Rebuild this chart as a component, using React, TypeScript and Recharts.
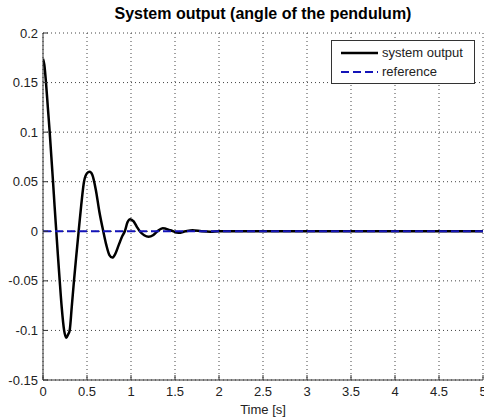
import { CartesianGrid, Legend, Line, LineChart, XAxis, YAxis } from 'recharts';

// system response (time in s, angle in rad)
const time = [
  0, 0.015, 0.034, 0.055, 0.076, 0.095, 0.114, 0.132, 0.151, 0.17, 0.19, 0.213, 0.24, 0.265,
  0.285, 0.303, 0.327, 0.352, 0.378, 0.405, 0.435, 0.466, 0.5, 0.53,
  0.56, 0.6, 0.64, 0.685, 0.72, 0.755, 0.788,
  0.82, 0.86, 0.9, 0.93, 0.96, 0.99,
  1.03, 1.07, 1.1, 1.15, 1.2,
  1.25, 1.3, 1.36, 1.45, 1.54, 1.62, 1.7, 1.8, 1.9, 2, 5,
];
const output = [
  0.174, 0.168, 0.15, 0.125, 0.1, 0.075, 0.05, 0.025, 0, -0.025, -0.05, -0.077, -0.1, -0.1075,
  -0.104, -0.1, -0.076, -0.05, -0.025, 0, 0.027, 0.05, 0.0585, 0.06,
  0.057, 0.042, 0.02, 0, -0.014, -0.024, -0.0265,
  -0.023, -0.014, -0.005, 0, 0.009, 0.0122,
  0.01, 0.004, 0, -0.004, -0.0055,
  -0.004, 0, 0.003, 0.001, -0.0015, 0, 0.001, 0, -0.0005, 0, 0,
];
const refTime = [0, 5];
const refValue = [0, 0];

const xTicks = [0, 0.5, 1, 1.5, 2, 2.5, 3, 3.5, 4, 4.5, 5];
const yTicks = [-0.15, -0.1, -0.05, 0, 0.05, 0.1, 0.15, 0.2];

const outputData = time.map((t, i) => ({ t, v: output[i] }));
const refData = refTime.map((t, i) => ({ t, v: refValue[i] }));

const FONT = 'Arial, "Liberation Sans", sans-serif';
const AXIS = '#333';
const TXT = '#222';
const TICK = 5;
const MARGIN = 6;

function BottomTick({ x, y, payload }: any) {
  const axisY = y - MARGIN;
  return (
    <g>
      <line x1={x} x2={x} y1={axisY} y2={axisY - TICK} stroke={AXIS} />
      <text x={x} y={axisY + 16} textAnchor="middle" fill={TXT} fontSize={13} fontFamily={FONT}>
        {payload.value}
      </text>
    </g>
  );
}

function LeftTick({ x, y, payload }: any) {
  const axisX = x + MARGIN;
  return (
    <g>
      <line x1={axisX} x2={axisX + TICK} y1={y} y2={y} stroke={AXIS} />
      <text x={x + 1} y={y + 4.5} textAnchor="end" fill={TXT} fontSize={13} fontFamily={FONT}>
        {payload.value}
      </text>
    </g>
  );
}

function TopTick({ x, y }: any) {
  return <line x1={x} x2={x} y1={y} y2={y + TICK} stroke={AXIS} />;
}

function RightTick({ x, y }: any) {
  return <line x1={x} x2={x - TICK} y1={y} y2={y} stroke={AXIS} />;
}

function LegendBox() {
  const rows = [
    { name: 'system output', color: '#000', dash: undefined, width: 2.5 },
    { name: 'reference', color: '#1414b8', dash: '8 4', width: 2 },
  ];
  return (
    <div
      style={{
        border: `1px solid ${AXIS}`,
        background: '#fff',
        padding: '2px 0 2px 9px',
        width: 133,
        fontFamily: FONT,
        fontSize: 13,
        color: TXT,
      }}
    >
      {rows.map((r) => (
        <div key={r.name} style={{ display: 'flex', alignItems: 'center', height: 19 }}>
          <svg width={37} height={6} style={{ marginRight: 4 }}>
            <line x1={0} x2={37} y1={3} y2={3} stroke={r.color} strokeWidth={r.width} strokeDasharray={r.dash} />
          </svg>
          <span>{r.name}</span>
        </div>
      ))}
    </div>
  );
}

export default function App() {
  return (
    <div style={{ position: 'absolute', left: 0, top: 0, width: 484, height: 418, background: '#fff' }}>
      <div
        style={{
          position: 'absolute',
          left: 43,
          top: 6,
          width: 440,
          textAlign: 'center',
          fontFamily: FONT,
          fontWeight: 'bold',
          fontSize: 16,
          lineHeight: '16px',
          color: '#000',
        }}
      >
        System output (angle of the pendulum)
      </div>
      <LineChart width={484} height={418} data={outputData} margin={{ top: 33, right: 1, bottom: 0, left: 0 }}>
        <CartesianGrid stroke="#444" strokeDasharray="1 3" />
        <XAxis
          dataKey="t"
          type="number"
          domain={[0, 5]}
          ticks={xTicks}
          allowDataOverflow
          height={38}
          tickSize={0}
          tickMargin={MARGIN}
          axisLine={{ stroke: AXIS }}
          tickLine={false}
          tick={<BottomTick />}
          interval={0}
          label={{ value: 'Time [s]', position: 'insideBottom', offset: 4, fill: TXT, fontSize: 13, fontFamily: FONT }}
        />
        <XAxis
          xAxisId="top"
          orientation="top"
          dataKey="t"
          type="number"
          domain={[0, 5]}
          ticks={xTicks}
          height={0}
          tickSize={0}
          tickMargin={0}
          axisLine={{ stroke: AXIS }}
          tickLine={false}
          tick={<TopTick />}
          interval={0}
        />
        <YAxis
          type="number"
          domain={[-0.15, 0.2]}
          ticks={yTicks}
          allowDataOverflow
          width={43}
          tickSize={0}
          tickMargin={MARGIN}
          axisLine={{ stroke: AXIS }}
          tickLine={false}
          tick={<LeftTick />}
          interval={0}
        />
        <YAxis
          yAxisId="right"
          orientation="right"
          type="number"
          domain={[-0.15, 0.2]}
          ticks={yTicks}
          width={0}
          tickSize={0}
          tickMargin={0}
          axisLine={{ stroke: AXIS }}
          tickLine={false}
          tick={<RightTick />}
          interval={0}
        />
        <Legend
          layout="vertical"
          align="center"
          verticalAlign="middle"
          wrapperStyle={{ left: 331, top: 40, width: 144 }}
          content={() => <LegendBox />}
        />
        <Line
          data={outputData}
          dataKey="v"
          name="system output"
          type="monotone"
          stroke="#000"
          strokeWidth={2.5}
          dot={false}
          isAnimationActive={false}
        />
        <Line
          data={refData}
          dataKey="v"
          name="reference"
          type="linear"
          stroke="#1414b8"
          strokeWidth={2}
          strokeDasharray="8 4"
          dot={false}
          isAnimationActive={false}
        />
      </LineChart>
    </div>
  );
}
